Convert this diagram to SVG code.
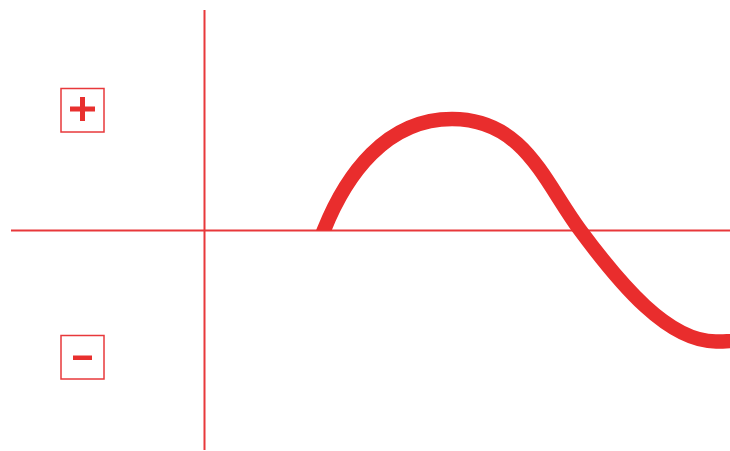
<svg xmlns="http://www.w3.org/2000/svg" width="730" height="451" viewBox="0 0 730 451">
  <style>
    .axis { stroke: #e8383b; stroke-width: 2; fill: none; }
    .box { stroke: #e8383b; stroke-width: 1.5; fill: #ffffff; }
    .sign { fill: #e8302e; }
    .wave { stroke: #e92d2d; stroke-width: 14.5; fill: none; stroke-linecap: butt; stroke-linejoin: round; }
  </style>
  <defs>
    <clipPath id="waveClip">
      <path d="M0 0 H740 V451 H400 V230.5 H0 Z"/>
    </clipPath>
  </defs>
  <rect width="730" height="451" fill="#ffffff"/>
  <g id="connectors">
    <line class="axis" x1="204.5" y1="10" x2="204.5" y2="450"/>
    <line class="axis" x1="11" y1="230.5" x2="730" y2="230.5"/>
  </g>
  <g id="wave" clip-path="url(#waveClip)">
    <path class="wave" d="M318 245 L324 230 C346 175 386 119 452 119 C524 119 544 181.4 580 230 C620 284 668 341.5 716 341.5 C741 341.5 766 336 790 326"/>
  </g>
  <g id="plus">
    <rect class="box" x="61" y="88.5" width="43" height="43.5"/>
    <rect class="sign" x="70" y="106.5" width="25" height="5"/>
    <rect class="sign" x="80" y="97" width="5" height="24"/>
  </g>
  <g id="minus">
    <rect class="box" x="61" y="335.5" width="43" height="43.5"/>
    <rect class="sign" x="73" y="355.5" width="19" height="4.5"/>
  </g>
</svg>
